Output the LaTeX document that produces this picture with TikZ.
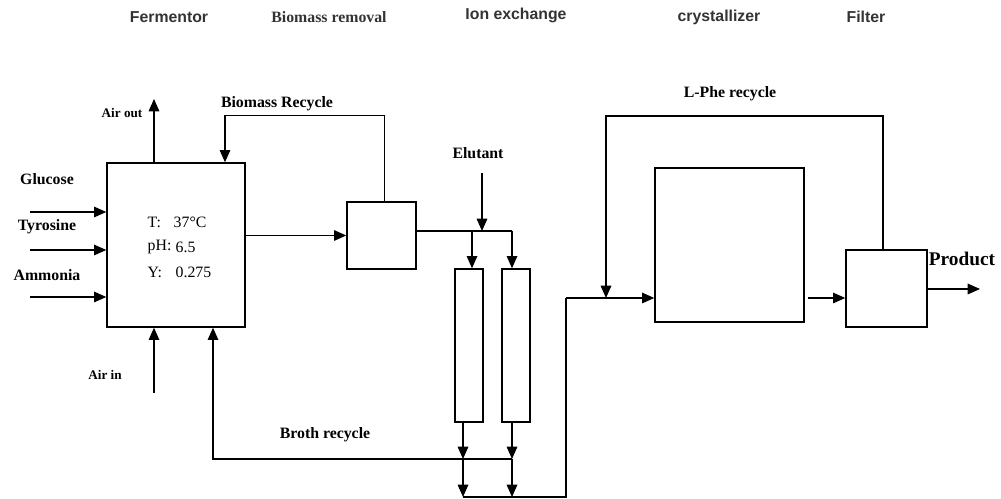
\documentclass[tikz,border=0pt]{standalone}
\usepackage{fontspec}
\setmainfont{Liberation Serif}
\setsansfont{Liberation Sans}
\usetikzlibrary{arrows.meta,calc}

\begin{document}
\begin{tikzpicture}[x=0.02cm,y=-0.02cm,>={Triangle[length=7pt,width=6pt]},line width=0.8pt]
			\tikzstyle{unit}=[draw, line width=0.8pt, inner sep=0pt]
			\tikzstyle{head}=[font=\sffamily\bfseries\fontsize{9}{10}\selectfont, text=black!80]
			\tikzstyle{lbl}=[font=\bfseries\fontsize{9}{10}\selectfont, inner sep=1pt]
			\tikzstyle{small}=[font=\bfseries\fontsize{7.5}{9}\selectfont, inner sep=1pt]
			\tikzstyle{cond}=[font=\fontsize{9}{10}\selectfont, anchor=west, inner sep=0pt]

			\useasboundingbox (0,0) rectangle (1001,499);

			\node[head] (hFerm) at (169,17) {Fermentor};
			\node[head, font=\bfseries\fontsize{9}{10}\selectfont] (hBio) at (329,17) {Biomass removal};
			\node[head] (hIon) at (516,15) {Ion exchange};
			\node[head] (hCryst) at (719,17) {crystallizer};
			\node[head] (hFilt) at (866,17) {Filter};

			\node (ferm) [unit, minimum width=2.76cm, minimum height=3.28cm] at (176,245) {};
			\node (bio) [unit, minimum width=1.38cm, minimum height=1.34cm] at (381.5,235.5) {};
			\node (col1) [unit, minimum width=0.56cm, minimum height=3.06cm] at (469,345.5) {};
			\node (col2) [unit, minimum width=0.56cm, minimum height=3.06cm] at (516,345.5) {};
			\node (cryst) [unit, minimum width=2.98cm, minimum height=3.08cm] at (729.5,245) {};
			\node (filt) [unit, minimum width=1.62cm, minimum height=1.54cm] at (886.5,288.5) {};

			\node[cond] (cT) at (147,222) {T:};
			\node[cond] (cTv) at (173,222) {37\textdegree C};
			\node[cond] (cpH) at (147,247) {pH:};
			\node[cond] (cpHv) at (175,247) {6.5};
			\node[cond] (cY) at (147,272) {Y:};
			\node[cond] (cYv) at (175,272) {0.275};

			\node[lbl] (lGluc) at (47,179) {Glucose};
			\node[lbl] (lTyr) at (47,227) {Tyrosine};
			\node[lbl] (lAmm) at (47,275) {Ammonia};
			\node[small] (lAirOut) at (122,113) {Air out};
			\node[small] (lAirIn) at (105,375) {Air in};
			\node[lbl] (lBioRec) at (277,104) {Biomass Recycle};
			\node[lbl] (lElu) at (478,153) {Elutant};
			\node[lbl] (lBroth) at (325,435) {Broth recycle};
			\node[lbl] (lPhe) at (730,94) {L-Phe recycle};
			\node[lbl, font=\bfseries\fontsize{11}{12}\selectfont] (lProd) at (962,259) {Product};

			\coordinate (gluc) at (30,212);
			\coordinate (tyr) at (30,250);
			\coordinate (amm) at (30,297);
			\coordinate (airout) at (154,99);
			\coordinate (airin) at (154,393);
			\coordinate (split) at (482,231);
			\coordinate (elu) at (482,173);
			\coordinate (j1) at (463,459);
			\coordinate (j2) at (512,459);
			\coordinate (b1) at (463,497);
			\coordinate (b2) at (512,497);
			\coordinate (bR) at (566,497);
			\coordinate (mix) at (566,298);
			\coordinate (phe) at (606,298);
			\coordinate (prod) at (980,289);

			\draw [->] (gluc) -- (gluc -| ferm.west);
			\draw [->] (tyr) -- (tyr -| ferm.west);
			\draw [->] (amm) -- (amm -| ferm.west);
			\draw [->] (airout |- ferm.north) -- (airout);
			\draw [->] (airin) -- (airin |- ferm.south);

			\draw [->] (ferm.east |- bio.west) -- (bio.west);
			\draw [->] ($(bio.north)+(3,0)$) |- ($(ferm.north)+(49,-47)$) -- ($(ferm.north)+(49,0)$);

			\draw (bio.east |- split) -- (split -| j2);
			\draw [->] (elu) -- (split);
			\draw [->] ($(col1.north)+(3,-38)$) -- ($(col1.north)+(3,0)$);
			\draw [->] (split -| j2) -- (col2.north -| j2);

			\draw [->] (col1.south -| j1) -- (j1);
			\draw [->] (col2.south -| j2) -- (j2);
			\draw [->] (j1) -- (b1);
			\draw [->] (j2) -- (b2);
			\draw [->] (j2) -| ($(ferm.south)+(37,0)$);
			\draw (b1) -- (bR) -- (mix);
			\draw [->] (mix) -- (mix -| cryst.west);
			\draw [->] (filt.north -| 883,0) |- ($(phe)+(0,-182)$) -- (phe);

			\draw [->] ($(cryst.east |- mix)+(3,0)$) -- (mix -| filt.west);
			\draw [->] (filt.east |- prod) -- (prod);
		\end{tikzpicture}
\end{document}
